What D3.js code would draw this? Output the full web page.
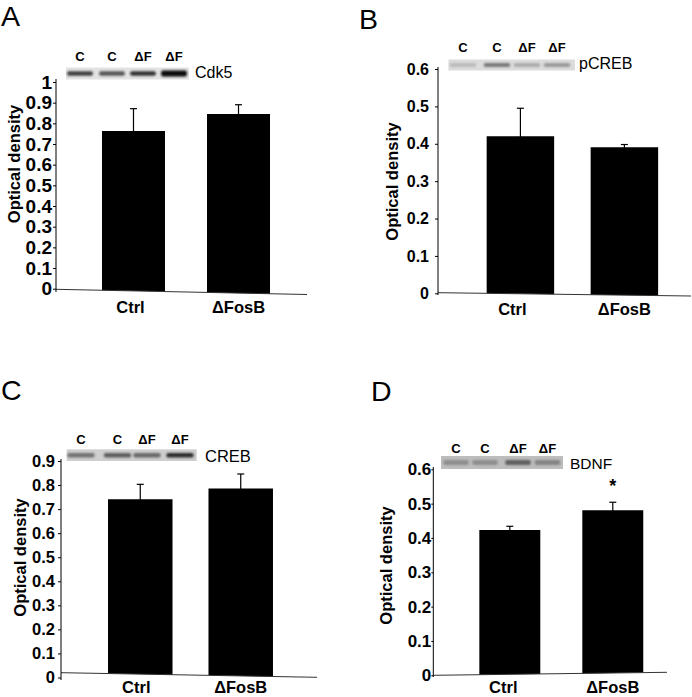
<!DOCTYPE html>
<html><head><meta charset="utf-8">
<script src="https://cdn.jsdelivr.net/npm/d3@7"></script>
<style>body{margin:0;background:#fff}svg{display:block}</style>
</head><body><svg id="c" width="692" height="697"></svg>
<script>
const FONT = '"Liberation Sans", Arial, Helvetica, sans-serif';

// ---------- data ----------
const categories = ["Ctrl", "ΔFosB"];
const laneLabels = ["C", "C", "ΔF", "ΔF"];

const cdk5Means = [0.763, 0.845];
const cdk5Errors = [0.108, 0.045];
const pcrebMeans = [0.42, 0.391];
const pcrebErrors = [0.075, 0.007];
const crebMeans = [0.741, 0.786];
const crebErrors = [0.062, 0.06];
const bdnfMeans = [0.423, 0.481];
const bdnfErrors = [0.011, 0.023];
const bdnfSignificance = ["", "*"];
const noSignificance = ["", ""];

const ticksTo1 = [0, 0.1, 0.2, 0.3, 0.4, 0.5, 0.6, 0.7, 0.8, 0.9, 1];
const tickLabelsTo1 = ["0", "0.1", "0.2", "0.3", "0.4", "0.5", "0.6", "0.7", "0.8", "0.9", "1"];
const ticksTo09 = [0, 0.1, 0.2, 0.3, 0.4, 0.5, 0.6, 0.7, 0.8, 0.9];
const tickLabelsTo09 = ["0", "0.1", "0.2", "0.3", "0.4", "0.5", "0.6", "0.7", "0.8", "0.9"];
const ticksTo06 = [0, 0.1, 0.2, 0.3, 0.4, 0.5, 0.6];
const tickLabelsTo06 = ["0", "0.1", "0.2", "0.3", "0.4", "0.5", "0.6"];

// blot band darkness per lane (0 = background, 1 = black)
const cdk5Bands = [0.72, 0.62, 0.78, 0.95];
const pcrebBands = [0.15, 0.45, 0.22, 0.3];
const crebBands = [0.45, 0.55, 0.5, 0.8];
const bdnfBands = [0.25, 0.25, 0.5, 0.3];

const yTitle = "Optical density";

// ---------- layout ----------
const panels = [
  { letter: "A", letterX: 1, letterY: 26, means: cdk5Means, errors: cdk5Errors, sig: noSignificance,
    yMax: 1, y0: 288.7, yMaxPx: 82, ticks: ticksTo1, tickLabels: tickLabelsTo1,
    axisX: 56, axisTop: 79, axisBottom: 292, tickSize: 3, tickPad: 1, tickFont: 19,
    bandRange: [56, 316], pi: 0.4, po: 0.438, baseline: [56, 289.3, 307, 294.5],
    titleX: 19.8, titleY: 164, xLabelY: 313, ctrlShift: -3,
    blot: { x: 66, y: 67.5, w: 123, h: 12, bg: "#e3e3e3", bands: cdk5Bands, bandH: 4.5,
            laneX: [80, 112, 143, 174], laneY: 60.5, name: "Cdk5", nameX: 195, nameY: 78.3, nameFont: 16 } },
  { letter: "B", letterX: 359, letterY: 29.3, means: pcrebMeans, errors: pcrebErrors, sig: noSignificance,
    yMax: 0.6, y0: 293.3, yMaxPx: 69, ticks: ticksTo06, tickLabels: tickLabelsTo06,
    axisX: 438, axisTop: 67, axisBottom: 295, tickSize: 3, tickPad: 6, tickFont: 16,
    bandRange: [438, 706.8], pi: 0.351, po: 0.468, baseline: [438, 292.7, 691, 296],
    titleX: 398, titleY: 181.5, xLabelY: 315, ctrlShift: -8,
    blot: { x: 448.5, y: 59.5, w: 126.5, h: 11, bg: "#dcdcdc", bands: pcrebBands, bandH: 4,
            laneX: [463, 497, 527, 557], laneY: 51.7, name: "pCREB", nameX: 579, nameY: 69, nameFont: 16 } },
  { letter: "C", letterX: 1, letterY: 399.5, means: crebMeans, errors: crebErrors, sig: noSignificance,
    yMax: 0.9, y0: 677.5, yMaxPx: 461, ticks: ticksTo09, tickLabels: tickLabelsTo09,
    axisX: 61, axisTop: 459, axisBottom: 680, tickSize: 3, tickPad: 3, tickFont: 16.5,
    bandRange: [61, 320], pi: 0.358, po: 0.468, baseline: [61, 672.7, 317, 677.3],
    titleX: 25.8, titleY: 557.5, xLabelY: 693, ctrlShift: -4,
    blot: { x: 66.7, y: 449.3, w: 130, h: 11.7, bg: "#cfcfcf", bands: crebBands, bandH: 4.5,
            laneX: [81, 117.5, 147, 180], laneY: 444.3, name: "CREB", nameX: 205, nameY: 461.7, nameFont: 16.5 } },
  { letter: "D", letterX: 371, letterY: 401, means: bdnfMeans, errors: bdnfErrors, sig: bdnfSignificance,
    yMax: 0.6, y0: 675.3, yMaxPx: 469.3, ticks: ticksTo06, tickLabels: tickLabelsTo06,
    axisX: 433.3, axisTop: 467, axisBottom: 677, tickSize: 2, tickPad: 0, tickFont: 17,
    bandRange: [433.3, 689.3], pi: 0.408, po: 0.447, baseline: [433.3, 675.3, 667, 672.3],
    titleX: 391.5, titleY: 565.5, xLabelY: 693, ctrlShift: -6.5,
    blot: { x: 441, y: 456, w: 122, h: 13, bg: "#bdbdbd", bands: bdnfBands, bandH: 5,
            laneX: [456, 485, 518, 547.5], laneY: 452.7, name: "BDNF", nameX: 570, nameY: 469, nameFont: 15.5 } }
];

const svg = d3.select("#c");
const defs = svg.append("defs");
defs.append("filter").attr("id", "blur").attr("x", "-30%").attr("y", "-100%").attr("width", "160%").attr("height", "300%")
  .append("feGaussianBlur").attr("stdDeviation", "1.3 0.9");

function drawPanel(p) {
  const g = svg.append("g");
  const y = d3.scaleLinear().domain([0, p.yMax]).range([p.y0, p.yMaxPx]);
  const x = d3.scaleBand().domain(categories).range(p.bandRange).paddingInner(p.pi).paddingOuter(p.po);
  const [bx0, by0, bx1, by1] = p.baseline;
  const bl = xx => by0 + (xx - bx0) * (by1 - by0) / (bx1 - bx0);

  // panel letter
  g.append("text").attr("x", p.letterX).attr("y", p.letterY).text(p.letter)
    .attr("font-family", FONT).attr("font-size", 28.5).attr("fill", "#000");

  // bars
  g.selectAll("path.bar").data(p.means).join("path").attr("class", "bar")
    .attr("d", (v, i) => {
      const x0 = x(categories[i]), x1 = x0 + x.bandwidth();
      return `M${x0},${y(v)}H${x1}V${bl(x1)}L${x0},${bl(x0)}Z`;
    })
    .attr("fill", "#000");

  // error bars (upper only)
  const cx = i => x(categories[i]) + x.bandwidth() / 2;
  g.selectAll("line.err").data(p.means).join("line").attr("class", "err")
    .attr("x1", (v, i) => cx(i)).attr("x2", (v, i) => cx(i))
    .attr("y1", (v, i) => y(v) + 1).attr("y2", (v, i) => y(v + p.errors[i]))
    .attr("stroke", "#000").attr("stroke-width", 1.2);
  g.selectAll("line.cap").data(p.means).join("line").attr("class", "cap")
    .attr("x1", (v, i) => cx(i) - 3.5).attr("x2", (v, i) => cx(i) + 3.5)
    .attr("y1", (v, i) => y(v + p.errors[i])).attr("y2", (v, i) => y(v + p.errors[i]))
    .attr("stroke", "#000").attr("stroke-width", 1.2);

  // significance
  g.selectAll("text.sig").data(p.sig).join("text").attr("class", "sig")
    .attr("x", (s, i) => cx(i)).attr("y", (s, i) => y(p.means[i] + p.errors[i]) - 10.5)
    .attr("text-anchor", "middle").attr("font-family", FONT).attr("font-weight", "bold")
    .attr("font-size", 18).text(s => s);

  // slanted baseline
  g.append("line").attr("x1", bx0).attr("y1", by0).attr("x2", bx1).attr("y2", by1)
    .attr("stroke", "#333").attr("stroke-width", 1);

  // y axis
  const ax = d3.axisLeft(y).tickValues(p.ticks).tickFormat((d, i) => p.tickLabels[i])
    .tickSize(p.tickSize).tickSizeOuter(0).tickPadding(p.tickPad);
  const ag = g.append("g").attr("transform", `translate(${p.axisX},0)`).call(ax);
  ag.select(".domain").remove();
  ag.selectAll(".tick line").attr("stroke", "#000");
  ag.selectAll(".tick text").attr("font-family", FONT).attr("font-weight", "bold")
    .attr("font-size", p.tickFont).attr("fill", "#000");
  g.append("line").attr("x1", p.axisX).attr("x2", p.axisX).attr("y1", p.axisTop).attr("y2", p.axisBottom)
    .attr("stroke", "#000").attr("stroke-width", 1);

  // y title
  g.append("text").attr("transform", `translate(${p.titleX},${p.titleY}) rotate(-90)`)
    .attr("text-anchor", "middle").attr("font-family", FONT).attr("font-weight", "bold")
    .attr("font-size", 16.5).text(yTitle);

  // x labels
  g.selectAll("text.xl").data(categories).join("text").attr("class", "xl")
    .attr("x", (c, i) => x(c) + x.bandwidth() / 2 + (i === 0 ? p.ctrlShift : 0))
    .attr("y", p.xLabelY).attr("text-anchor", "middle").attr("font-family", FONT)
    .attr("font-weight", "bold").attr("font-size", 16.5).text(c => c);

  // western blot strip
  const b = p.blot;
  g.append("rect").attr("x", b.x).attr("y", b.y).attr("width", b.w).attr("height", b.h).attr("fill", b.bg);
  const laneW = b.w / 4;
  const shade = d3.interpolateRgb(b.bg, "#000");
  g.selectAll("rect.band").data(b.bands).join("rect").attr("class", "band")
    .attr("x", (d, i) => b.laneX[i] - laneW * 0.42).attr("width", laneW * 0.84)
    .attr("y", (d, i) => b.y + b.h / 2 - (b.bandH + (d > 0.9 ? 1.5 : 0)) / 2)
    .attr("height", (d) => b.bandH + (d > 0.9 ? 1.5 : 0))
    .attr("rx", 2).attr("fill", d => shade(d)).attr("filter", "url(#blur)");
  g.selectAll("text.lane").data(laneLabels).join("text").attr("class", "lane")
    .attr("x", (t, i) => b.laneX[i]).attr("y", b.laneY).attr("text-anchor", "middle")
    .attr("font-family", FONT).attr("font-weight", "bold").attr("font-size", 13).text(t => t);
  g.append("text").attr("x", b.nameX).attr("y", b.nameY).attr("font-family", FONT)
    .attr("font-size", b.nameFont).text(b.name);
}

panels.forEach(drawPanel);
</script>
</body></html>
